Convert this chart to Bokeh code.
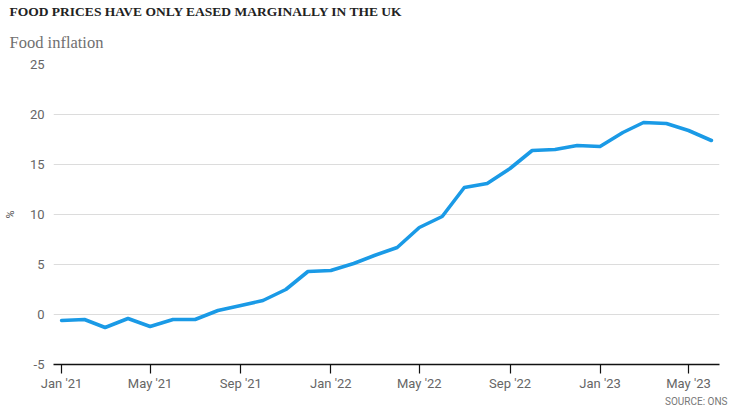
import pandas as pd
from bokeh.plotting import figure
from bokeh.models import (Range1d, FixedTicker, DatetimeTickFormatter, Title,
                          ColumnDataSource, PrintfTickFormatter)
from bokeh.embed import file_html
from bokeh.resources import INLINE

# ---- data ----
months = ["2021-01", "2021-02", "2021-03", "2021-04", "2021-05", "2021-06",
          "2021-07", "2021-08", "2021-09", "2021-10", "2021-11", "2021-12",
          "2022-01", "2022-02", "2022-03", "2022-04", "2022-05", "2022-06",
          "2022-07", "2022-08", "2022-09", "2022-10", "2022-11", "2022-12",
          "2023-01", "2023-02", "2023-03", "2023-04", "2023-05", "2023-06"]
food_inflation = [-0.6, -0.5, -1.3, -0.4, -1.2, -0.5, -0.5, 0.4, 0.9, 1.4, 2.5, 4.3,
                  4.4, 5.1, 5.9, 6.7, 8.7, 9.8, 12.7, 13.1, 14.6, 16.4, 16.5, 16.9,
                  16.8, 18.2, 19.2, 19.1, 18.4, 17.4]
tick_months = ["2021-01", "2021-05", "2021-09", "2022-01", "2022-05", "2022-09",
               "2023-01", "2023-05"]
y_ticks = [-5, 0, 5, 10, 15, 20, 25]

title_text = "FOOD PRICES HAVE ONLY EASED MARGINALLY IN THE UK"
subtitle_text = "Food inflation"
source_text = "SOURCE: ONS"
y_label = "%"

dates = pd.to_datetime(months)
src = ColumnDataSource(dict(date=dates, value=food_inflation))
tick_ms = [pd.Timestamp(m).value // 10**6 for m in tick_months]

pad = pd.Timedelta(days=11)
x_start = (dates[0] - pad).to_pydatetime()
x_end = (dates[-1] + pad).to_pydatetime()

TICK_FONT = "'Liberation Sans Narrow', 'Roboto', sans-serif"

p = figure(width=756, height=412, x_axis_type="datetime", output_backend="svg",
           toolbar_location=None,
           x_range=Range1d(x_start, x_end), y_range=Range1d(-5, 25),
           min_border_left=52, min_border_right=37, min_border_top=64,
           min_border_bottom=48)
p.outline_line_color = None
p.background_fill_color = "white"
p.border_fill_color = "white"

p.line("date", "value", source=src, line_color="#1a9ae6", line_width=3.6,
       line_join="round", line_cap="round")

# y axis
p.yaxis.ticker = FixedTicker(ticks=y_ticks)
p.yaxis.formatter = PrintfTickFormatter(format="%d")
p.yaxis.axis_line_color = None
p.yaxis.major_tick_line_color = None
p.yaxis.major_tick_out = 0
p.yaxis.major_tick_in = 0
p.yaxis.minor_tick_line_color = None
p.yaxis.major_label_standoff = 9
p.yaxis.major_label_text_font = TICK_FONT
p.yaxis.major_label_text_font_size = "13px"
p.yaxis.major_label_text_color = "#666666"
p.yaxis.axis_label = y_label
p.yaxis.axis_label_text_font = TICK_FONT
p.yaxis.axis_label_text_font_size = "11px"
p.yaxis.axis_label_text_font_style = "normal"
p.yaxis.axis_label_text_color = "#555555"
p.yaxis.axis_label_standoff = 10

# x axis
p.xaxis.ticker = FixedTicker(ticks=tick_ms)
p.xaxis.formatter = DatetimeTickFormatter(days="%b '%y", months="%b '%y", years="%b '%y")
p.xaxis.axis_line_color = "#111111"
p.xaxis.axis_line_width = 1.5
p.xaxis.major_tick_line_color = "#111111"
p.xaxis.major_tick_line_width = 1.2
p.xaxis.major_tick_out = 9
p.xaxis.major_tick_in = 0
p.xaxis.minor_tick_line_color = None
p.xaxis.major_label_standoff = 2
p.xaxis.major_label_text_font = TICK_FONT
p.xaxis.major_label_text_font_size = "13px"
p.xaxis.major_label_text_color = "#666666"

# grid
p.xgrid.grid_line_color = None
p.ygrid.ticker = FixedTicker(ticks=y_ticks)
p.ygrid.grid_line_color = "#dcdcdc"
p.ygrid.grid_line_width = 1

# titles
p.add_layout(Title(text=subtitle_text, text_font="'Liberation Serif', serif",
                   text_font_size="16.5px", text_font_style="normal",
                   text_color="#707070", offset=-44, standoff=25), "above")
p.add_layout(Title(text=title_text, text_font="'Liberation Serif', serif",
                   text_font_size="13.5px", text_font_style="bold",
                   text_color="#222222", offset=-44, standoff=0), "above")
p.add_layout(Title(text=source_text, text_font=TICK_FONT, align="right",
                   text_font_size="10px", text_font_style="normal",
                   text_color="#777777", offset=-8, standoff=0), "below")

open("out.html", "w").write(file_html(p, INLINE))
